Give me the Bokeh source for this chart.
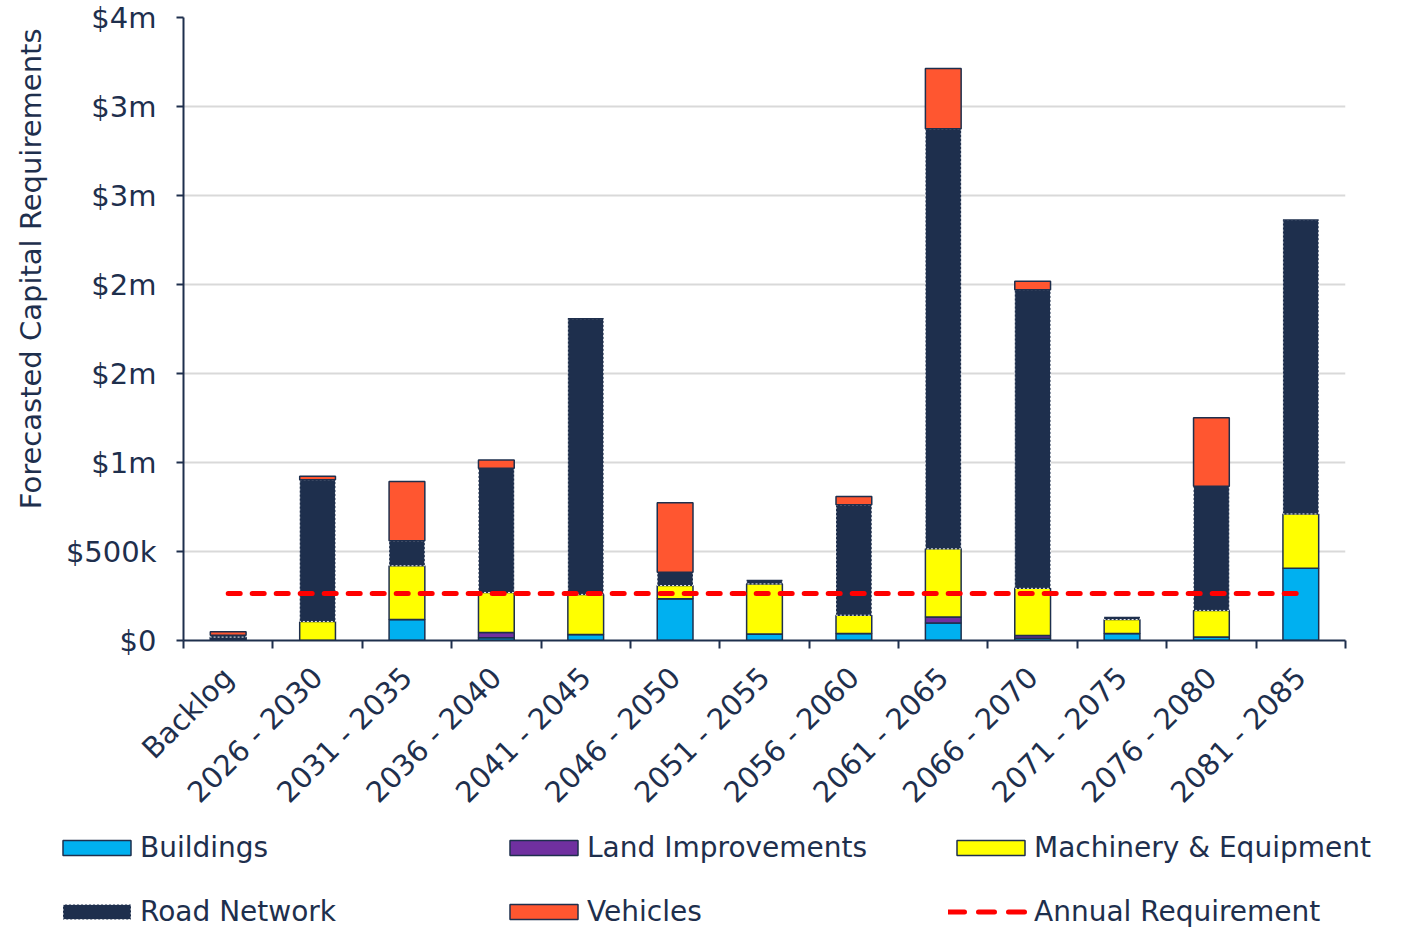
import math
import numpy as np
from bokeh.plotting import figure
from bokeh.layouts import column
from bokeh.models import FixedTicker, Legend, LegendItem, ColumnDataSource, Range1d, Title
from bokeh.transform import stack
from bokeh.embed import file_html
from bokeh.resources import INLINE

categories = ["Backlog", "2026 - 2030", "2031 - 2035", "2036 - 2040", "2041 - 2045",
              "2046 - 2050", "2051 - 2055", "2056 - 2060", "2061 - 2065", "2066 - 2070",
              "2071 - 2075", "2076 - 2080", "2081 - 2085"]
buildings = [8000, 0, 118000, 15000, 34000, 234000, 37000, 39000, 99000, 13000, 39000, 19000, 406000]
land_improvements = [6000, 0, 0, 30000, 0, 0, 0, 0, 33000, 15000, 0, 0, 0]
machinery = [5000, 107000, 302000, 225000, 225000, 75000, 281000, 103000, 383000, 265000, 79000, 150000, 305000]
road_network = [10000, 796000, 140000, 697000, 1549000, 75000, 19000, 620000, 2360000, 1678000, 11000, 697000, 1652000]
vehicles = [20000, 20000, 333000, 47000, 0, 390000, 0, 47000, 338000, 47000, 0, 386000, 0]
annual_requirement = 264000

y_ticks = [0, 500000, 1000000, 1500000, 2000000, 2500000, 3000000, 3500000]
y_tick_labels = ["$0", "$500k", "$1m", "$2m", "$2m", "$3m", "$3m", "$4m"]

series_names = ["Buildings", "Land Improvements", "Machinery & Equipment", "Road Network", "Vehicles"]
series_keys = ["b", "l", "m", "r", "v"]
colors = ["#00B0F0", "#7030A0", "#FFFF00", "#1E2F4D", "#FF5630"]

NAVY = "#1E2F4D"
FONT = "DejaVu Sans"

xpos = [i + 0.5 for i in range(len(categories))]
src = ColumnDataSource(dict(x=xpos, b=buildings, l=land_improvements, m=machinery,
                            r=road_network, v=vehicles))

p = figure(width=1401, height=825, output_backend="svg", toolbar_location=None,
           x_range=Range1d(0, len(categories)), y_range=Range1d(0, 3500000),
           min_border_left=182, min_border_right=56, min_border_top=17, min_border_bottom=185)
p.outline_line_color = None
p.frame_align = False


def bar_style(key, color):
    if key == "r":
        return dict(fill_color=color, line_color="white", line_dash="2 2",
                    line_width=1, line_alpha=0.9)
    return dict(fill_color=color, line_color=NAVY, line_width=1.5)


for i, key in enumerate(series_keys):
    prev = series_keys[:i]
    bottom = stack(*prev) if prev else 0
    top = stack(*prev, key)
    p.vbar(x="x", bottom=bottom, top=top, width=0.4, source=src, **bar_style(key, colors[i]))

line_src = ColumnDataSource(dict(x=[xpos[0], xpos[-1]], y=[annual_requirement, annual_requirement]))
p.line(x="x", y="y", source=line_src, line_color="#FF0000", line_width=5,
       line_dash="12 12", line_cap="round")

# axes
p.xaxis.ticker = FixedTicker(ticks=xpos, minor_ticks=list(range(len(categories) + 1)))
p.xaxis.major_label_overrides = {x: c for x, c in zip(xpos, categories)}
p.xaxis.major_label_orientation = math.pi / 4
p.xaxis.major_tick_out = 0
p.xaxis.major_tick_in = 0
p.xaxis.minor_tick_out = 8
p.xaxis.minor_tick_in = 0
p.xaxis.minor_tick_line_color = NAVY
p.xaxis.minor_tick_line_width = 2
p.xaxis.axis_line_color = NAVY
p.xaxis.axis_line_width = 2
p.xaxis.major_label_text_font = FONT
p.xaxis.major_label_text_font_size = "29px"
p.xaxis.major_label_text_color = NAVY
p.xaxis.major_label_standoff = 24

yax = p.yaxis[0]
yax.ticker = FixedTicker(ticks=y_ticks, minor_ticks=[])
yax.major_label_overrides = {t: l for t, l in zip(y_ticks, y_tick_labels)}
yax.major_tick_out = 7
yax.major_tick_in = 0
yax.major_tick_line_color = NAVY
yax.major_tick_line_width = 2
yax.axis_line_color = NAVY
yax.axis_line_width = 2
yax.major_label_text_font = FONT
yax.major_label_text_font_size = "29px"
yax.major_label_text_color = NAVY
yax.major_label_standoff = 20

# y-axis title, placed toward the top like the reference
ylabel = Title(text="Forecasted Capital Requirements", align="right", offset=11,
               vertical_align="top",
               text_font=FONT, text_font_size="29px", text_font_style="normal",
               text_color=NAVY, standoff=26)
p.add_layout(ylabel, "left")

p.xgrid.grid_line_color = None
p.ygrid.grid_line_color = "#D9D9D9"
p.ygrid.grid_line_width = 2

# legend panel below the chart
p2 = figure(width=1401, height=105, output_backend="svg", toolbar_location=None,
            x_range=Range1d(0, 1), y_range=Range1d(0, 1),
            x_axis_type=None, y_axis_type=None,
            min_border_left=0, min_border_right=0, min_border_top=0, min_border_bottom=0)
p2.outline_line_color = None
p2.xgrid.grid_line_color = None
p2.ygrid.grid_line_color = None
p2.frame_align = False

# placeholder glyphs (no drawable coordinates) that only carry the legend styles
dummy = ColumnDataSource(dict(x=np.array([0.5]), top=np.array([np.nan]), y=np.array([np.nan])))
items = []
for i, key in enumerate(series_keys):
    r = p2.vbar(x="x", top="top", width=0.4, source=dummy, **bar_style(key, colors[i]))
    items.append(LegendItem(label=series_names[i], renderers=[r]))
lr = p2.line(x="x", y="y", source=dummy, line_color="#FF0000", line_width=5,
             line_dash="16 14", line_cap="round")
items.append(LegendItem(label="Annual Requirement", renderers=[lr]))

legend = Legend(items=items, orientation="horizontal", ncols=3,
                location=(54, 0), padding=0, margin=0, spacing=26,
                glyph_width=85, glyph_height=19, label_standoff=1,
                label_width=335, label_height=38,
                label_text_font=FONT, label_text_font_size="28px", label_text_color=NAVY,
                border_line_color=None, background_fill_alpha=0)
p2.add_layout(legend, "center")

layout = column(p, p2, spacing=0)
open("out.html", "w").write(file_html(layout, INLINE))
